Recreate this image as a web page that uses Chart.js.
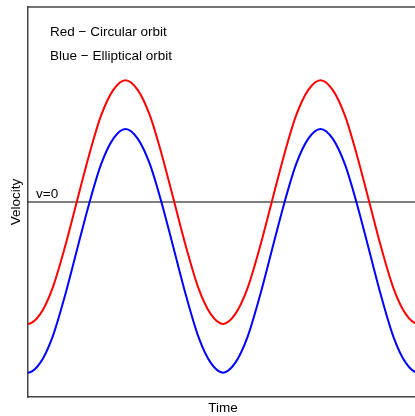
<!DOCTYPE html>
<html>
<head>
<meta charset="utf-8">
<script src="https://cdn.jsdelivr.net/npm/chart.js@4"></script>
<style>
  body { margin: 0; overflow: hidden; background: #fff; }
  #wrap { width: 420px; height: 416px; }
</style>
</head>
<body>
<div id="wrap"><canvas id="orbitChart"></canvas></div>
<script>
// time steps (one orbit = 16 steps), two orbits shown; -1 and 33 lie just outside the box
let timeVals = [-1,0,1,2,3,4,5,6,7,8,9,10,11,12,13,14,15,16,17,18,19,20,21,22,23,24,25,26,27,28,29,30,31,32,33];
let circularVel = [-0.92,-1,-0.92,-0.71,-0.38,0,0.38,0.71,0.92,1,0.92,0.71,0.38,0,-0.38,-0.71,-0.92,
                   -1,-0.92,-0.71,-0.38,0,0.38,0.71,0.92,1,0.92,0.71,0.38,0,-0.38,-0.71,-0.92,-1,-0.92];
let ellipticalVel = [-1.32,-1.4,-1.32,-1.11,-0.78,-0.4,-0.02,0.31,0.52,0.6,0.52,0.31,-0.02,-0.4,-0.78,-1.11,-1.32,
                     -1.4,-1.32,-1.11,-0.78,-0.4,-0.02,0.31,0.52,0.6,0.52,0.31,-0.02,-0.4,-0.78,-1.11,-1.32,-1.4,-1.32];
let zeroLine = [0, 0];
let labelLines = ["Red \u2212 Circular orbit", "Blue \u2212 Elliptical orbit"];

function pts(vals) {
    return vals.map((v, i) => ({x: timeVals[i], y: v}));
}

const FONT = "'Liberation Sans', Arial, Helvetica, sans-serif";

const notes = {
    id: "notes",
    afterDraw(chart) {
        const ctx = chart.ctx;
        const a = chart.chartArea;
        const y = chart.scales.y;
        ctx.save();
        // top border of the box
        ctx.strokeStyle = "#444";
        ctx.lineWidth = 1.5;
        ctx.beginPath();
        ctx.moveTo(a.left, a.top);
        ctx.lineTo(a.right, a.top);
        ctx.stroke();
        ctx.fillStyle = "#000";
        ctx.font = "13.5px " + FONT;
        ctx.textBaseline = "middle";
        ctx.fillText(labelLines[0], a.left + 22, a.top + 25);
        ctx.fillText(labelLines[1], a.left + 22, a.top + 49);
        ctx.fillText("v=0", a.left + 8, y.getPixelForValue(0) - 8);
        ctx.restore();
    }
};

let orbitChart = new Chart("orbitChart", {
    type: "line",
    data: {
        datasets: [
            {
                label: "circular",
                data: pts(circularVel),
                borderColor: "#ff0000",
                borderWidth: 2,
                pointRadius: 0,
                cubicInterpolationMode: "monotone"
            },
            {
                label: "elliptical",
                data: pts(ellipticalVel),
                borderColor: "#0000ff",
                borderWidth: 2,
                pointRadius: 0,
                cubicInterpolationMode: "monotone"
            },
            {
                label: "zero",
                data: [{x: 0, y: zeroLine[0]}, {x: 32, y: zeroLine[1]}],
                borderColor: "#000",
                borderWidth: 1,
                pointRadius: 0
            }
        ]
    },
    options: {
        responsive: true,
        maintainAspectRatio: false,
        animation: false,
        layout: { padding: { left: 5.6, right: 2, top: 7, bottom: 0 } },
        plugins: {
            legend: { display: false },
            tooltip: { enabled: false }
        },
        scales: {
            x: {
                type: "linear",
                min: 0,
                max: 32,
                grid: { display: false, drawTicks: false },
                ticks: { display: false },
                border: { color: "#444", width: 1.5 },
                title: {
                    display: true,
                    text: "Time",
                    color: "#000",
                    font: { size: 13.5, family: FONT },
                    padding: { top: 2.8, bottom: 0 }
                }
            },
            y: {
                min: -1.6,
                max: 1.6,
                grid: { display: false, drawTicks: false },
                ticks: { display: false },
                border: { color: "#444", width: 1.5 },
                title: {
                    display: true,
                    text: "Velocity",
                    color: "#000",
                    font: { size: 13.5, family: FONT },
                    padding: { top: 2.3, bottom: 3.9 }
                }
            }
        }
    },
    plugins: [notes]
});
</script>
</body>
</html>
